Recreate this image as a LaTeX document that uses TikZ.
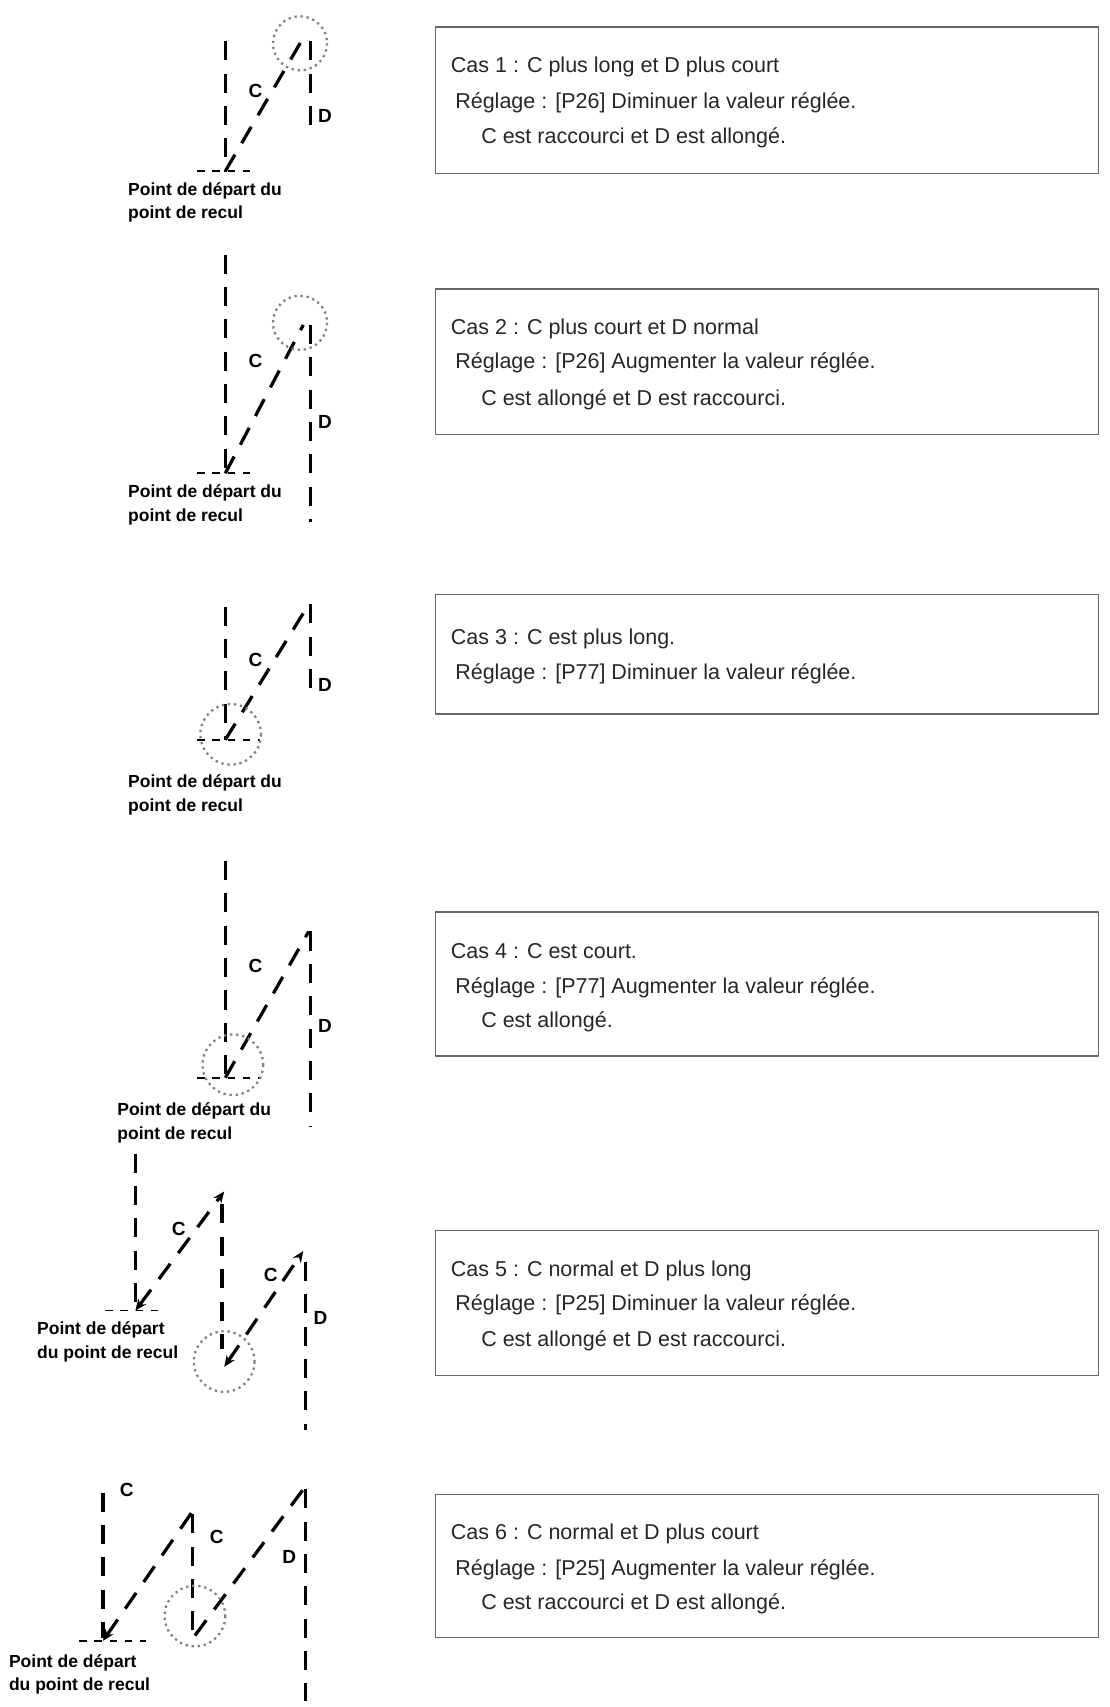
\documentclass[tikz,border=0pt]{standalone}
\usepackage{fontspec}
\setmainfont{Liberation Sans}
\usetikzlibrary{arrows.meta}

\begin{document}
\begin{tikzpicture}[line cap=butt,line join=round,x=0.02cm,y=-0.02cm,
  dsh/.style={line width=1.7pt,dash pattern=on 10pt off 7pt},
  base/.style={line width=0.9pt,dash pattern=on 4pt off 4pt},
  ring/.style={gray,line width=1.2pt,dotted},
  box/.style={draw=gray!80!black,line width=0.8pt},
  lab/.style={font=\fontsize{9.2}{10}\selectfont\bfseries,anchor=west,inner sep=0pt},
  cd/.style={font=\fontsize{10}{10}\selectfont\bfseries,inner sep=0pt},
  txt/.style={font=\fontsize{11.3}{12}\selectfont,anchor=west,inner sep=0pt,text=black!85}]
\useasboundingbox (0,0) rectangle (1024,1576);

% cas 1
\draw[dsh] (208,38)-- (208,158);
\draw[dsh] (208,158)-- (280,35);
\draw[dsh] (287,38)-- (287,125);
\draw[base] (182,158)-- (238,158);
\draw[ring] (277,40) circle (25);
\node[cd] at (236,84) {C};
\node[cd] at (300,107) {D};
\node[lab] (l1a) at (118,176) {Point de départ du};
\node[lab] (l1b) at (118,198) {point de recul};

% cas 2
\draw[dsh] (208,235)-- (208,437);
\draw[dsh] (208,437)-- (280,300);
\draw[dsh] (287,300)-- (287,482);
\draw[base] (182,437)-- (238,437);
\draw[ring] (277,298) circle (25);
\node[cd] at (236,333) {C};
\node[cd] at (300,390) {D};
\node[lab] (l2a) at (118,455) {Point de départ du};
\node[lab] (l2b) at (118,477) {point de recul};

% cas 3
\draw[dsh] (208,560)-- (208,683);
\draw[dsh] (208,683)-- (285,558);
\draw[dsh] (287,558)-- (287,640);
\draw[base] (182,683)-- (240,683);
\draw[ring] (213,678) circle (28);
\node[cd] at (236,609) {C};
\node[cd] at (300,632) {D};
\node[lab] (l3a) at (118,723) {Point de départ du};
\node[lab] (l3b) at (118,745) {point de recul};

% cas 4
\draw[dsh] (208,795)-- (208,995);
\draw[dsh] (208,995)-- (285,860);
\draw[dsh] (287,860)-- (287,1040);
\draw[base] (182,995)-- (240,995);
\draw[ring] (215,983) circle (28);
\node[cd] at (236,892) {C};
\node[cd] at (300,947) {D};
\node[lab] (l4a) at (108,1026) {Point de départ du};
\node[lab] (l4b) at (108,1048) {point de recul};

% cas 5
\draw[dsh] (125,1065)-- (125,1208);
\draw[dsh,{Stealth[length=6pt,width=5pt]}-{Stealth[length=6pt,width=5pt]}] (125,1210)-- (207,1100);
\draw[dsh] (205,1112)-- (205,1245);
\draw[dsh,{Stealth[length=6pt,width=5pt]}-{Stealth[length=6pt,width=5pt]}] (207,1262)-- (280,1155);
\draw[dsh] (282,1165)-- (282,1320);
\draw[base] (97,1210)-- (150,1210);
\draw[ring] (207,1257) circle (28);
\node[cd] at (165,1135) {C};
\node[cd] at (250,1177) {C};
\node[cd] at (296,1217) {D};
\node[lab] (l5a) at (34,1228) {Point de départ};
\node[lab] (l5b) at (34,1250) {du point de recul};

% cas 6
\draw[dsh] (95,1378)-- (95,1512);
\draw[dsh,{Stealth[length=6pt,width=5pt]}-] (95,1515)-- (178,1395);
\draw[dsh] (178,1398)-- (178,1512);
\draw[dsh] (180,1510)-- (280,1375);
\draw[dsh] (282,1375)-- (282,1570);
\draw[base] (73,1515)-- (135,1515);
\draw[ring] (180,1492) circle (28);
\node[cd] at (117,1376) {C};
\node[cd] at (200,1419) {C};
\node[cd] at (267,1437) {D};
\node[lab] (l6a) at (8,1535) {Point de départ};
\node[lab] (l6b) at (8,1557) {du point de recul};

% boites
\draw[box] (402,25) rectangle (1014,160);
\node[txt] at (416,62) {Cas 1 : C plus long et D plus court};
\node[txt] at (420,95) {Réglage : [P26] Diminuer la valeur réglée.};
\node[txt] at (444,127) {C est raccourci et D est allongé.};

\draw[box] (402,267) rectangle (1014,401);
\node[txt] at (416,304) {Cas 2 : C plus court et D normal};
\node[txt] at (420,335) {Réglage : [P26] Augmenter la valeur réglée.};
\node[txt] at (444,369) {C est allongé et D est raccourci.};

\draw[box] (402,549) rectangle (1014,659);
\node[txt] at (416,590) {Cas 3 : C est plus long.};
\node[txt] at (420,622) {Réglage : [P77] Diminuer la valeur réglée.};

\draw[box] (402,842) rectangle (1014,975);
\node[txt] at (416,878) {Cas 4 : C est court.};
\node[txt] at (420,912) {Réglage : [P77] Augmenter la valeur réglée.};
\node[txt] at (444,943) {C est allongé.};

\draw[box] (402,1136) rectangle (1014,1270);
\node[txt] at (416,1173) {Cas 5 : C normal et D plus long};
\node[txt] at (420,1205) {Réglage : [P25] Diminuer la valeur réglée.};
\node[txt] at (444,1238) {C est allongé et D est raccourci.};

\draw[box] (402,1380) rectangle (1014,1512);
\node[txt] at (416,1416) {Cas 6 : C normal et D plus court};
\node[txt] at (420,1449) {Réglage : [P25] Augmenter la valeur réglée.};
\node[txt] at (444,1481) {C est raccourci et D est allongé.};
\end{tikzpicture}
\end{document}
